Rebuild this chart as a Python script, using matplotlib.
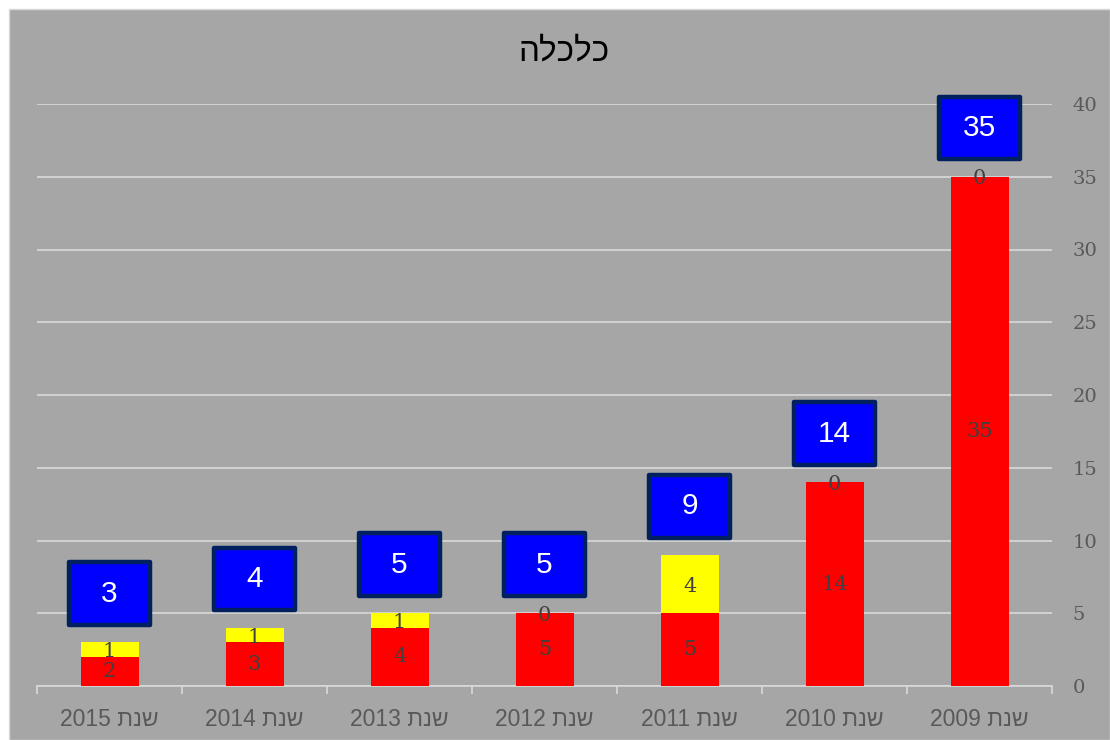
import matplotlib
matplotlib.use("Agg")
import matplotlib.pyplot as plt
from matplotlib.patches import Rectangle
import numpy as np

# Data (left to right as displayed)
years = ["2015", "2014", "2013", "2012", "2011", "2010", "2009"]
label_word = "שנת"
red_vals = [2, 3, 4, 5, 5, 14, 35]
yellow_vals = [1, 1, 1, 0, 4, 0, 0]
title_text = "כלכלה"
yticks = [0, 5, 10, 15, 20, 25, 30, 35, 40]


def visual(s):
    # matplotlib has no bidi support: reverse Hebrew for visual order
    return s[::-1]


tot = [r + y for r, y in zip(red_vals, yellow_vals)]
xlabels = [f"{yr} {visual(label_word)}" for yr in years]

W, H = 1110, 740
fig = plt.figure(figsize=(W / 100, H / 100), dpi=100, facecolor="white")
bg = Rectangle((9 / W, 0), 1 - 9 / W, 1 - 9 / H, transform=fig.transFigure,
               facecolor="#A6A6A6", edgecolor="#D9D9D9", linewidth=1.0, zorder=-10)
fig.patches.append(bg)

ax = fig.add_axes([37 / W, 1 - 686 / H, (1052 - 37) / W, (686 - 104) / H])
ax.set_facecolor("none")

x = np.arange(len(years))
bw = 0.4
ax.bar(x, red_vals, width=bw, color="#FF0000", zorder=3)
ax.bar(x, yellow_vals, width=bw, bottom=red_vals, color="#FFFF00", zorder=3)

lab_font = dict(family=["DejaVu Serif"], fontsize=15, color="#404040")
for i in range(len(years)):
    ax.text(x[i], red_vals[i] / 2, str(red_vals[i]), ha="center", va="center", zorder=5, **lab_font)
    ax.text(x[i], red_vals[i] + yellow_vals[i] / 2 - 0.15, str(yellow_vals[i]), ha="center",
            va="center", zorder=5, **lab_font)

# total boxes
box_w = 0.565
box_h = 4.3
for i in range(len(years)):
    cy = tot[i] + 3.35
    rect = Rectangle((x[i] - box_w / 2, cy - box_h / 2), box_w, box_h, facecolor="#0000FF",
                     edgecolor="#002060", linewidth=3.2, joinstyle="round", zorder=6, clip_on=False)
    ax.add_patch(rect)
    ax.text(x[i], cy, str(tot[i]), ha="center", va="center", color="white", fontsize=21.5,
            family=["Liberation Sans", "DejaVu Sans"], zorder=7, clip_on=False)

ax.set_xlim(-0.5, len(years) - 0.5)
ax.set_ylim(0, 40)
ax.set_yticks(yticks)
ax.yaxis.tick_right()
ax.tick_params(axis="y", length=0, pad=15, labelsize=14, labelcolor="#595959")
for lbl in ax.get_yticklabels():
    lbl.set_family(["DejaVu Serif"])
    lbl.set_horizontalalignment("left")

ax.set_xticks(x)
ax.set_xticklabels(xlabels, fontsize=16.5, color="#595959", family=["Liberation Sans", "DejaVu Sans"])
ax.set_xticks(np.arange(-0.5, len(years), 1.0), minor=True)
ax.tick_params(axis="x", which="major", length=0, pad=16)
ax.tick_params(axis="x", which="minor", length=6, width=1.2, color="#D9D9D9")

ax.grid(axis="y", color="#D9D9D9", linewidth=1.2, zorder=0)
ax.set_axisbelow(True)
for s in ["top", "left", "right"]:
    ax.spines[s].set_visible(False)
ax.spines["bottom"].set_color("#D9D9D9")
ax.spines["bottom"].set_linewidth(1.2)

fig.text(564 / W, 1 - 52 / H, visual(title_text), ha="center", va="center", fontsize=24,
         color="black", family=["Liberation Sans", "DejaVu Sans"])

fig.savefig("out.png", dpi=100, facecolor=fig.get_facecolor())
